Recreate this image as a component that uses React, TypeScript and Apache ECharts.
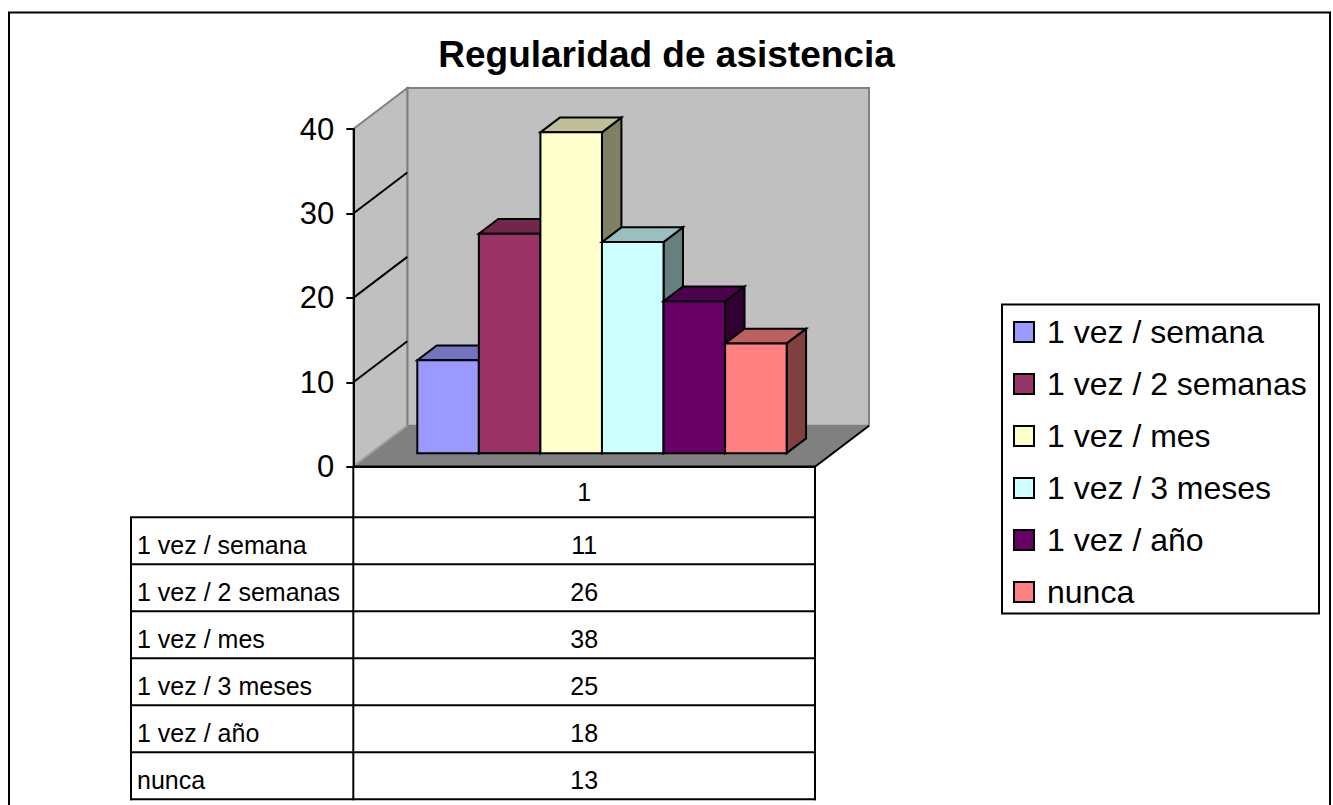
import React, { useEffect, useRef } from 'react';
import * as echarts from 'echarts';

// ---------- data ----------
const TITLE = 'Regularidad de asistencia';
const categories = ['1'];
const seriesNames = ['1 vez / semana', '1 vez / 2 semanas', '1 vez / mes', '1 vez / 3 meses', '1 vez / año', 'nunca'];
const seriesValues = [11, 26, 38, 25, 18, 13];
const yMin = 0;
const yMax = 40;
const yStep = 10;
const wallGridValues = [10, 20, 30];

// ---------- style ----------
const COLORS = ['#9999FF', '#993366', '#FFFFCC', '#CCFFFF', '#660066', '#FF8080'];
const FONT = "'Liberation Sans', Arial, Helvetica, sans-serif";
const GRID = { left: 353.3, top: 129, width: 461.7, height: 337.7 };
const DEPTH = [54, -41];
const BAR_FRONT = 0.33;
const BAR_BACK = 0.69;
const GROUP_FRAC = 0.8;
const TABLE_LEFT = 131;
const HEADER_H = 50.6;
const ROW_H = 47;
const TABLE_FONT = 25;

function shade(hex: string, k: number): string {
  const n = parseInt(hex.slice(1), 16);
  const r = Math.round(((n >> 16) & 255) * k);
  const g = Math.round(((n >> 8) & 255) * k);
  const b = Math.round((n & 255) * k);
  return `rgb(${r},${g},${b})`;
}

function barRenderer(i: number) {
  return (params: any, api: any) => {
    const c0 = api.coord([api.value(0), 0]);
    const c1 = api.coord([api.value(0), api.value(1)]);
    const band = api.size([1, 0])[0];
    const gw = band * GROUP_FRAC;
    const bw = gw / seriesValues.length;
    const fx = DEPTH[0] * BAR_FRONT;
    const fy = DEPTH[1] * BAR_FRONT;
    const dx = DEPTH[0] * (BAR_BACK - BAR_FRONT);
    const dy = DEPTH[1] * (BAR_BACK - BAR_FRONT);
    const xl = c0[0] - gw / 2 + i * bw + fx;
    const xr = xl + bw;
    const yb = c0[1] + fy;
    const yt = c1[1] + fy;
    const color = COLORS[i];
    const edge = { stroke: '#000', lineWidth: 2, lineJoin: 'miter' };
    return {
      type: 'group',
      z2: 10 + i,
      children: [
        {
          type: 'polygon',
          z2: 10 + i,
          shape: { points: [[xr, yb], [xr + dx, yb + dy], [xr + dx, yt + dy], [xr, yt]] },
          style: { fill: shade(color, 0.5), ...edge },
        },
        {
          type: 'polygon',
          z2: 10 + i,
          shape: { points: [[xl, yt], [xr, yt], [xr + dx, yt + dy], [xl + dx, yt + dy]] },
          style: { fill: shade(color, 0.75), ...edge },
        },
        {
          type: 'polygon',
          z2: 10 + i,
          shape: { points: [[xl, yb], [xr, yb], [xr, yt], [xl, yt]] },
          style: { fill: color, ...edge },
        },
      ],
    };
  };
}

function wallsRenderer(params: any, api: any) {
  const c0 = api.coord([0, yMin]);
  const cT = api.coord([0, yMax]);
  const band = api.size([1, 0])[0];
  const x0 = c0[0] - band / 2;
  const x1 = c0[0] + band / 2;
  const yB = c0[1];
  const yT = cT[1];
  const [dx, dy] = DEPTH;
  const children: any[] = [
    {
      type: 'polygon',
      shape: { points: [[x0 + dx, yT + dy], [x1 + dx, yT + dy], [x1 + dx, yB + dy], [x0 + dx, yB + dy]] },
      style: { fill: '#C0C0C0', stroke: '#808080', lineWidth: 2 },
    },
    {
      type: 'polygon',
      shape: { points: [[x0, yT], [x0 + dx, yT + dy], [x0 + dx, yB + dy], [x0, yB]] },
      style: { fill: '#C0C0C0', stroke: '#808080', lineWidth: 2 },
    },
    {
      type: 'polygon',
      shape: { points: [[x0, yB], [x1, yB], [x1 + dx, yB + dy], [x0 + dx, yB + dy]] },
      style: { fill: '#808080', stroke: 'none' },
    },
    {
      type: 'line',
      shape: { x1: x0, y1: yB, x2: x0 + dx, y2: yB + dy },
      style: { stroke: '#A0A0A0', lineWidth: 1.5 },
    },
    {
      type: 'line',
      shape: { x1: x1, y1: yB, x2: x1 + dx, y2: yB + dy },
      style: { stroke: '#000', lineWidth: 2 },
    },
    {
      type: 'line',
      shape: { x1: x0, y1: yB, x2: x1 + 1, y2: yB },
      style: { stroke: '#000', lineWidth: 2.5 },
    },
  ];
  wallGridValues.forEach((v) => {
    const c = api.coord([0, v]);
    children.push({
      type: 'line',
      shape: { x1: x0, y1: c[1], x2: x0 + dx, y2: c[1] + dy },
      style: { stroke: '#000', lineWidth: 2 },
    });
  });
  return { type: 'group', children };
}

function tableRenderer(params: any, api: any) {
  const c0 = api.coord([0, yMin]);
  const band = api.size([1, 0])[0];
  const x0 = c0[0] - band / 2;
  const x1 = c0[0] + band / 2;
  const yB = c0[1];
  const rowsTop = yB + HEADER_H;
  const bottom = rowsTop + ROW_H * seriesNames.length;
  const line = { stroke: '#000', lineWidth: 2 };
  const children: any[] = [
    { type: 'line', shape: { x1: x0, y1: yB, x2: x0, y2: bottom + 1 }, style: line },
    { type: 'line', shape: { x1: x1, y1: yB, x2: x1, y2: bottom + 1 }, style: line },
    { type: 'line', shape: { x1: TABLE_LEFT, y1: rowsTop, x2: TABLE_LEFT, y2: bottom + 1 }, style: line },
    { type: 'line', shape: { x1: TABLE_LEFT - 1, y1: rowsTop, x2: x1 + 1, y2: rowsTop }, style: line },
  ];
  seriesNames.forEach((name, i) => {
    const top = rowsTop + ROW_H * i;
    const yb = top + ROW_H;
    const cy = top + ROW_H / 2 + 4;
    children.push({ type: 'line', shape: { x1: TABLE_LEFT - 1, y1: yb, x2: x1 + 1, y2: yb }, style: line });
    children.push({
      type: 'text',
      style: { text: name, x: TABLE_LEFT + 6, y: cy, fill: '#000', font: `${TABLE_FONT}px ${FONT}`, align: 'left', verticalAlign: 'middle' },
    });
    children.push({
      type: 'text',
      style: { text: String(seriesValues[i]), x: c0[0], y: cy, fill: '#000', font: `${TABLE_FONT}px ${FONT}`, align: 'center', verticalAlign: 'middle' },
    });
  });
  return { type: 'group', children };
}

export default function App() {
  const ref = useRef<HTMLDivElement>(null);
  useEffect(() => {
    if (!ref.current) return;
    const chart = echarts.init(ref.current, undefined, { renderer: 'svg' });
    const barSeries = seriesNames.map((name, i) => ({
      type: 'custom',
      name,
      z: 3,
      data: [[0, seriesValues[i]]],
      encode: { x: 0, y: 1 },
      itemStyle: { color: COLORS[i] },
      renderItem: barRenderer(i),
      silent: true,
    }));
    chart.setOption({
      animation: false,
      backgroundColor: '#fff',
      title: {
        text: TITLE,
        left: 'center',
        top: 36,
        padding: 0,
        textStyle: { fontFamily: FONT, fontSize: 37, fontWeight: 'bold', color: '#000' },
      },
      grid: { left: GRID.left, top: GRID.top, width: GRID.width, height: GRID.height, containLabel: false },
      xAxis: {
        type: 'category',
        data: categories,
        axisLine: { show: false },
        axisTick: { show: false },
        axisLabel: { fontFamily: FONT, fontSize: TABLE_FONT, color: '#000', margin: 13 },
        splitLine: { show: false },
      },
      yAxis: {
        type: 'value',
        min: yMin,
        max: yMax,
        interval: yStep,
        axisLine: { show: true, lineStyle: { color: '#000', width: 2 } },
        axisTick: { show: true, length: 7, lineStyle: { color: '#000', width: 2 } },
        axisLabel: { fontFamily: FONT, fontSize: 31, color: '#000', margin: 19 },
        splitLine: { show: false },
        z: 5,
      },
      legend: {
        data: seriesNames,
        orient: 'vertical',
        left: 1013,
        top: 316,
        padding: 0,
        itemWidth: 20,
        itemHeight: 20,
        itemGap: 20,
        icon: 'rect',
        selectedMode: false,
        itemStyle: { borderColor: '#000', borderWidth: 2 },
        formatter: (name: string) => `{p| }${name}`,
        textStyle: {
          fontFamily: FONT,
          fontSize: 32,
          color: '#000',
          lineHeight: 32,
          rich: { p: { width: 8, fontSize: 32, lineHeight: 32 } },
        },
        z: 10,
      },
      graphic: [
        {
          type: 'rect',
          z: 0,
          silent: true,
          shape: { x: 9, y: 12.5, width: 1321, height: 820 },
          style: { fill: 'none', stroke: '#000', lineWidth: 2 },
        },
        {
          type: 'rect',
          z: 1,
          silent: true,
          shape: { x: 1002, y: 304.5, width: 317, height: 309 },
          style: { fill: '#fff', stroke: '#000', lineWidth: 2 },
        },
      ],
      series: [
        {
          type: 'custom',
          name: 'walls',
          z: 1,
          data: [[0, 0]],
          encode: { x: 0, y: 1 },
          renderItem: wallsRenderer,
          silent: true,
        },
        ...barSeries,
        {
          type: 'custom',
          name: 'table',
          z: 4,
          data: [[0, 0]],
          encode: { x: 0, y: 1 },
          renderItem: tableRenderer,
          silent: true,
        },
      ],
    });
    return () => chart.dispose();
  }, []);
  return (
    <div style={{ position: 'fixed', left: 0, top: 0, width: 1333, height: 805, background: '#fff' }}>
      <div ref={ref} style={{ width: 1333, height: 805 }} />
    </div>
  );
}
